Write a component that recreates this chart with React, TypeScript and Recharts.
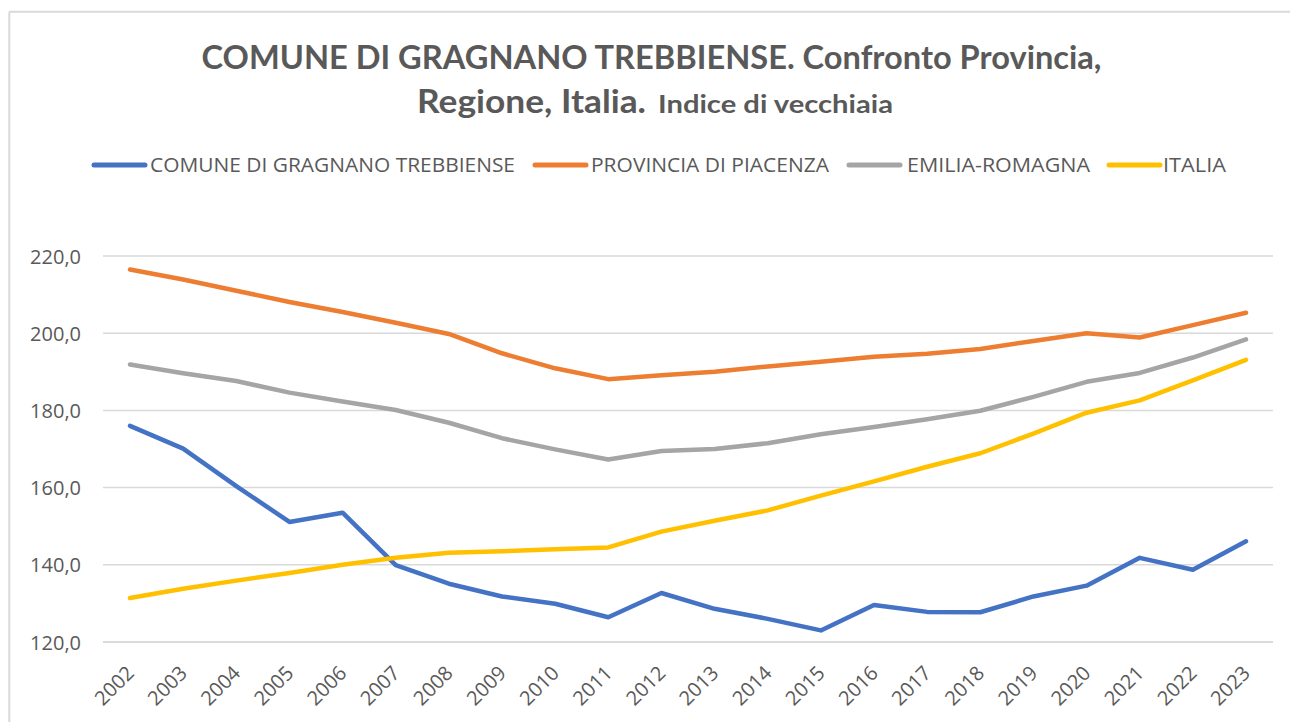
import React from 'react';
import { LineChart, Line, XAxis, YAxis, CartesianGrid } from 'recharts';

const years = ['2002','2003','2004','2005','2006','2007','2008','2009','2010','2011','2012','2013','2014','2015','2016','2017','2018','2019','2020','2021','2022','2023'];
const comune = [176.0,170.1,160.4,151.1,153.5,139.9,135.1,131.8,129.9,126.4,132.7,128.6,126.0,123.0,129.6,127.8,127.7,131.8,134.6,141.8,138.7,146.1];
const provincia = [216.5,213.9,211.0,208.1,205.5,202.7,199.8,194.8,190.9,188.1,189.1,190.0,191.4,192.6,193.9,194.7,195.9,198.0,200.0,198.9,202.1,205.3];
const emilia = [191.9,189.6,187.6,184.6,182.3,180.1,176.8,172.8,169.9,167.3,169.5,170.0,171.5,173.8,175.7,177.7,179.9,183.5,187.4,189.7,193.7,198.4];
const italia = [131.4,133.8,135.9,137.9,140.0,141.8,143.1,143.5,144.0,144.5,148.6,151.4,154.1,157.9,161.6,165.4,168.9,174.0,179.4,182.6,187.8,193.1];
const yTicks = [120, 140, 160, 180, 200, 220];

const seriesNames = ['COMUNE DI GRAGNANO TREBBIENSE', 'PROVINCIA DI PIACENZA', 'EMILIA-ROMAGNA', 'ITALIA'];
const seriesKeys = ['comune', 'provincia', 'emilia', 'italia'];
const seriesColors = ['#4472C4', '#ED7D31', '#A5A5A5', '#FFC000'];

const data = years.map((y, i) => ({
  year: y,
  comune: comune[i],
  provincia: provincia[i],
  emilia: emilia[i],
  italia: italia[i],
}));

const TEXT = '#595959';
const GRID = '#D9D9D9';

// legend layout (style only)
const legendItems = [
  { lineX: 92, textX: 150, textW: 365 },
  { lineX: 533, textX: 591, textW: 238 },
  { lineX: 847, textX: 907, textW: 183 },
  { lineX: 1107, textX: 1163, textW: 63 },
];

const XTick = (props: any) => {
  const { x, y, payload } = props;
  return (
    <g transform={`translate(${x},${y + 27})`}>
      <text
        x={0}
        y={0}
        textAnchor="end"
        dominantBaseline="central"
        transform="rotate(-45)"
        fill={TEXT}
        fontSize={20}
        fontFamily="'Open Sans', sans-serif"
      >
        {payload.value}
      </text>
    </g>
  );
};

const YTick = (props: any) => {
  const { x, y, payload } = props;
  return (
    <text
      x={x}
      y={y}
      textAnchor="end"
      dominantBaseline="central"
      fill={TEXT}
      fontSize={20}
      fontFamily="'Open Sans', sans-serif"
    >
      {Number(payload.value).toFixed(1).replace('.', ',')}
    </text>
  );
};

export default function App() {
  return (
    <div style={{ position: 'absolute', left: 0, top: 0, width: 1290, height: 722, background: '#fff', overflow: 'hidden' }}>
      <LineChart
        width={1290}
        height={722}
        data={data}
        margin={{ top: 256, right: 17, left: 0, bottom: 0 }}
      >
        <CartesianGrid vertical={false} stroke={GRID} strokeWidth={1.5} />
        <XAxis
          dataKey="year"
          height={80}
          padding={{ left: 27, right: 27 }}
          axisLine={{ stroke: GRID, strokeWidth: 1.5 }}
          tickLine={false}
          tickSize={0}
          tickMargin={0}
          interval={0}
          tick={<XTick />}
        />
        <YAxis
          width={103}
          domain={[120, 220]}
          ticks={yTicks}
          axisLine={false}
          tickLine={false}
          tickSize={0}
          tickMargin={22}
          tick={<YTick />}
        />
        {seriesKeys.map((k, i) => (
          <Line
            key={k}
            type="linear"
            dataKey={k}
            name={seriesNames[i]}
            stroke={seriesColors[i]}
            strokeWidth={4.5}
            strokeLinecap="round"
            strokeLinejoin="round"
            dot={false}
            activeDot={false}
            isAnimationActive={false}
          />
        ))}
      </LineChart>
      <svg
        width={1290}
        height={722}
        style={{ position: 'absolute', left: 0, top: 0, pointerEvents: 'none' }}
      >
        <line x1={9.3} y1={11.8} x2={1290} y2={11.8} stroke={GRID} strokeWidth={2} />
        <line x1={9.3} y1={11.8} x2={9.3} y2={722} stroke={GRID} strokeWidth={2} />
        <g fontFamily="Lato, 'Open Sans', sans-serif" fontWeight={700} fill={TEXT}>
          <text x={201.5} y={69} fontSize={32} textLength={900} lengthAdjust="spacingAndGlyphs">
            COMUNE DI GRAGNANO TREBBIENSE. Confronto Provincia,
          </text>
          <text x={417} y={113} fontSize={32} textLength={229} lengthAdjust="spacingAndGlyphs">
            Regione, Italia.
          </text>
          <text x={658} y={113} fontSize={25} textLength={235} lengthAdjust="spacingAndGlyphs">
            Indice di vecchiaia
          </text>
        </g>
        {legendItems.map((it, i) => (
          <g key={seriesKeys[i]}>
            <line
              x1={it.lineX + 2}
              y1={165}
              x2={it.lineX + 53}
              y2={165}
              stroke={seriesColors[i]}
              strokeWidth={5}
              strokeLinecap="round"
            />
            <text
              x={it.textX}
              y={172}
              fontSize={20.5}
              fontFamily="'Open Sans', sans-serif"
              fill={TEXT}
              textLength={it.textW}
              lengthAdjust="spacingAndGlyphs"
            >
              {seriesNames[i]}
            </text>
          </g>
        ))}
      </svg>
    </div>
  );
}
